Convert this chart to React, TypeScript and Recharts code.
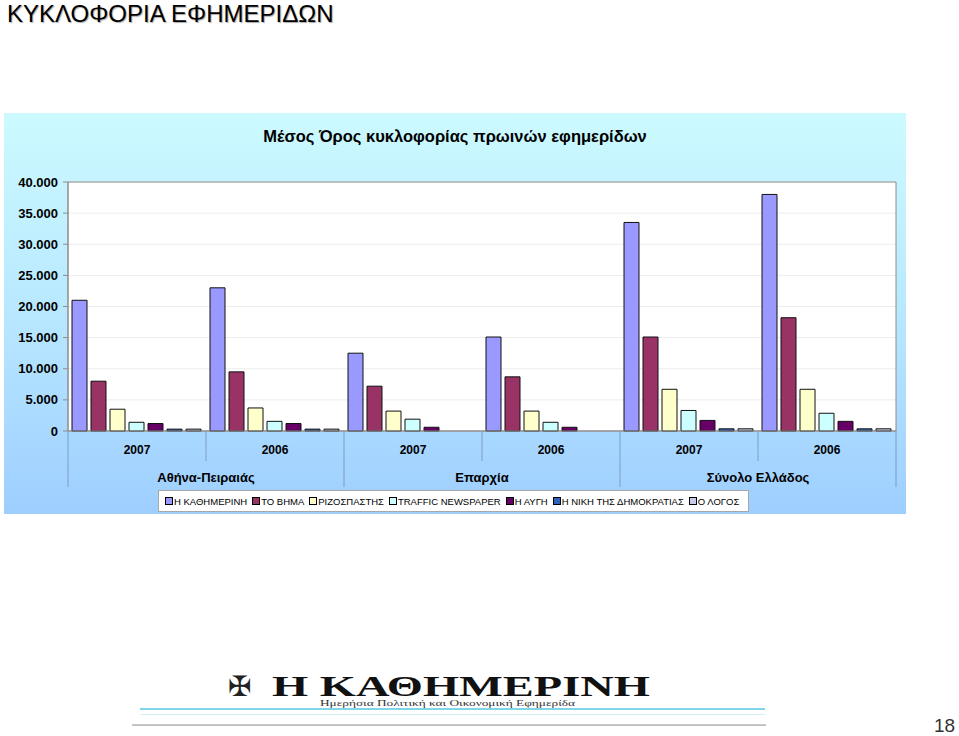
import React from 'react'
import {
  BarChart,
  Bar,
  XAxis,
  YAxis,
  CartesianGrid,
  ReferenceArea,
} from 'recharts'

const years = ['2007', '2006', '2007', '2006', '2007', '2006']
const regions = [
  'Αθήνα-Πειραιάς',
  'Αθήνα-Πειραιάς',
  'Επαρχία',
  'Επαρχία',
  'Σύνολο Ελλάδος',
  'Σύνολο Ελλάδος',
]

const kathimerini = [21000, 23000, 12500, 15100, 33500, 38000]
const vima = [8000, 9500, 7200, 8700, 15100, 18200]
const rizospastis = [3500, 3700, 3200, 3200, 6700, 6700]
const traffic = [1400, 1550, 1900, 1400, 3300, 2850]
const avgi = [1200, 1200, 600, 600, 1700, 1550]
const niki = [300, 300, null, null, 350, 350]
const logos = [300, 300, null, null, 350, 350]

const yTicks = [0, 5000, 10000, 15000, 20000, 25000, 30000, 35000, 40000]

const series = [
  { key: 'kathimerini', name: 'Η ΚΑΘΗΜΕΡΙΝΗ', color: '#9999FF', values: kathimerini },
  { key: 'vima', name: 'ΤΟ ΒΗΜΑ', color: '#993366', values: vima },
  { key: 'rizospastis', name: 'ΡΙΖΟΣΠΑΣΤΗΣ', color: '#FFFFCC', values: rizospastis },
  { key: 'traffic', name: 'TRAFFIC NEWSPAPER', color: '#CCFFFF', values: traffic },
  { key: 'avgi', name: 'Η ΑΥΓΗ', color: '#660066', values: avgi },
  { key: 'niki', name: 'Η ΝΙΚΗ ΤΗΣ ΔΗΜΟΚΡΑΤΙΑΣ', color: '#2D62B8', values: niki },
  { key: 'logos', name: 'Ο ΛΟΓΟΣ', color: '#C8C8E8', values: logos },
]

const data = years.map((year, i) => {
  const row: Record<string, any> = { year, region: regions[i] }
  series.forEach((s) => {
    row[s.key] = s.values[i]
  })
  return row
})

const FONT = "Arial, 'Liberation Sans', sans-serif"
const CHART_W = 902
const CHART_H = 401
const MARGIN = { top: 69, right: 10, left: 0, bottom: 27 }
const Y_W = 64
const HALF_BAND = (CHART_W - MARGIN.right - Y_W) / years.length / 2
const SEP = '#7f9cc0'

const fmt = (v: number) => (v === 0 ? '0' : v.toLocaleString('de-DE'))

function YearTick(props: any) {
  const { x, y, payload, index } = props
  return (
    <g>
      <line x1={x - HALF_BAND} x2={x - HALF_BAND} y1={y} y2={y + 30} stroke={SEP} />
      {index === years.length - 1 && (
        <line x1={x + HALF_BAND} x2={x + HALF_BAND} y1={y} y2={y + 30} stroke={SEP} />
      )}
      <text
        x={x}
        y={y + 23}
        textAnchor="middle"
        fontFamily={FONT}
        fontWeight="bold"
        fontSize={12}
        fill="#000"
      >
        {payload.value}
      </text>
    </g>
  )
}

function RegionTick(props: any) {
  const { x, y, payload, index } = props
  if (index % 2 === 1) {
    return index === years.length - 1 ? (
      <line x1={x + HALF_BAND} x2={x + HALF_BAND} y1={y} y2={y + 26} stroke={SEP} />
    ) : (
      <g />
    )
  }
  return (
    <g>
      <line x1={x - HALF_BAND} x2={x - HALF_BAND} y1={y} y2={y + 26} stroke={SEP} />
      <text
        x={x + HALF_BAND}
        y={y + 21}
        textAnchor="middle"
        fontFamily={FONT}
        fontWeight="bold"
        fontSize={13}
        fill="#000"
      >
        {payload.value}
      </text>
    </g>
  )
}

export default function App() {
  return (
    <div
      style={{
        position: 'absolute',
        left: 0,
        top: 0,
        width: 959,
        height: 736,
        background: '#fff',
        fontFamily: FONT,
        overflow: 'hidden',
      }}
    >
      <div
        style={{
          position: 'absolute',
          left: 7,
          top: 0,
          fontSize: 24,
          lineHeight: '27px',
          color: '#000',
          whiteSpace: 'nowrap',
          textShadow: '1px 1px 1px #aaa',
        }}
      >
        ΚΥΚΛΟΦΟΡΙΑ ΕΦΗΜΕΡΙΔΩΝ
      </div>

      <div
        style={{
          position: 'absolute',
          left: 4,
          top: 113,
          width: CHART_W,
          height: CHART_H,
          background: 'linear-gradient(to bottom, #CCFAFF 0%, #B8E8FF 50%, #9ECEFF 100%)',
        }}
      >
        <div
          style={{
            position: 'absolute',
            left: 0,
            top: 14,
            width: '100%',
            textAlign: 'center',
            fontSize: 16.5,
            fontWeight: 'bold',
            color: '#000',
          }}
        >
          Μέσος Όρος κυκλοφορίας πρωινών εφημερίδων
        </div>

        <div style={{ position: 'absolute', left: 0, top: 0 }}>
          <BarChart
            width={CHART_W}
            height={CHART_H}
            data={data}
            margin={MARGIN}
            barCategoryGap={4}
            barGap={4}
          >
            <CartesianGrid xAxisId={0} vertical={false} stroke="#ececec" fill="#fff" />
            <XAxis
              xAxisId={0}
              dataKey="year"
              height={30}
              interval={0}
              tickLine={false}
              tickSize={0}
              tickMargin={0}
              axisLine={{ stroke: '#8c8c8c' }}
              tick={<YearTick />}
            />
            <XAxis
              xAxisId={1}
              dataKey="region"
              height={26}
              interval={0}
              tickLine={false}
              tickSize={0}
              tickMargin={0}
              axisLine={false}
              tick={<RegionTick />}
            />
            <YAxis
              width={Y_W}
              domain={[0, 40000]}
              ticks={yTicks}
              tickFormatter={fmt}
              tickSize={5}
              tickMargin={5}
              axisLine={{ stroke: '#8c8c8c' }}
              tickLine={{ stroke: '#8c8c8c' }}
              tick={{ fontSize: 13, fontWeight: 'bold', fill: '#000', fontFamily: FONT }}
            />
            {series.map((s) => (
              <Bar
                key={s.key}
                xAxisId={0}
                dataKey={s.key}
                name={s.name}
                fill={s.color}
                stroke="#111"
                strokeWidth={1}
                isAnimationActive={false}
              />
            ))}
            <ReferenceArea
              xAxisId={0}
              y1={0}
              y2={40000}
              fill="none"
              fillOpacity={0}
              stroke="#8c8c8c"
              strokeOpacity={1}
            />
          </BarChart>
        </div>

        <div
          style={{
            position: 'absolute',
            left: 154,
            top: 377,
            width: 591,
            height: 22,
            boxSizing: 'border-box',
            background: '#fff',
            border: '1px solid #a8a8a8',
            display: 'flex',
            alignItems: 'center',
            paddingLeft: 6,
            gap: 5,
            fontSize: 9.5,
            color: '#000',
            whiteSpace: 'nowrap',
          }}
        >
          {series.map((s) => (
            <div key={s.key} style={{ display: 'flex', alignItems: 'center' }}>
              <span
                style={{
                  display: 'inline-block',
                  width: 6,
                  height: 6,
                  background: s.color,
                  border: '1px solid #000',
                  marginRight: 1,
                }}
              />
              {s.name}
            </div>
          ))}
        </div>
      </div>

      {/* newspaper masthead */}
      <svg
        width={959}
        height={80}
        style={{ position: 'absolute', left: 0, top: 656 }}
      >
        <defs>
          <linearGradient id="shadow" x1="0" y1="0" x2="0" y2="1">
            <stop offset="0" stopColor="#fff" />
            <stop offset="1" stopColor="#bbb" />
          </linearGradient>
        </defs>
        <rect x={132} y={62} width={634} height={8} fill="url(#shadow)" />
        <rect x={130} y={48} width={636} height={20} fill="#fff" />
        <text
          x={228}
          y={40}
          fontSize={28}
          fontFamily="'DejaVu Serif', serif"
          fill="#222"
        >
          ✠
        </text>
        <text
          x={272}
          y={40}
          fontSize={29}
          fontWeight="bold"
          fontFamily="'Liberation Serif', 'Times New Roman', serif"
          fill="#111"
          textLength={378}
          lengthAdjust="spacingAndGlyphs"
        >
          Η ΚΑΘΗΜΕΡΙΝΗ
        </text>
        <text
          x={320}
          y={50}
          fontSize={8}
          fontFamily="'Liberation Serif', serif"
          fill="#333"
          textLength={255}
          lengthAdjust="spacingAndGlyphs"
        >
          Ημερήσια Πολιτική και Οικονομική Εφημερίδα
        </text>
        <rect x={140} y={52} width={625} height={2} fill="#7ed6e6" />
        <rect x={140} y={58} width={625} height={1} fill="#d2f0f5" />
      </svg>

      <div
        style={{
          position: 'absolute',
          left: 934,
          top: 715,
          fontSize: 19,
          color: '#333',
        }}
      >
        18
      </div>
    </div>
  )
}
